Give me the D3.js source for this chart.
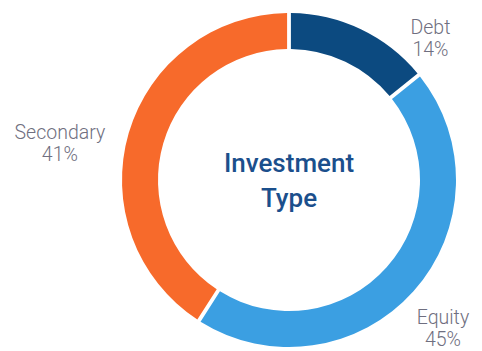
<!DOCTYPE html>
<html>
<head>
<meta charset="utf-8">
<title>Investment Type</title>
<style>
  html, body { margin: 0; padding: 0; background: #fff; }
  svg { display: block; }
</style>
</head>
<body>
<div id="container"></div>
<script src="https://d3js.org/d3.v7.min.js"></script>
<script>

// data
const categories = ["Debt", "Equity", "Secondary"];
const shares = [14, 45, 41];
const sliceColors = ["#0c4a80", "#3b9fe2", "#f76a2b"];
const centerTitle = ["Investment", "Type"];

const width = 482;
const height = 351;
const cx = 289;
const cy = 180;
const outerR = 167;
const innerR = 131;

// where each label sits, as angle (deg from 12 o'clock) and distance from centre
const labelPlace = {
  Debt: { angle: 45, r: 200 },
  Equity: { angle: 134, r: 214 },
  Secondary: { angle: 279, r: 232 }
};

const rows = categories.map((c, i) => ({ key: c, value: shares[i], color: sliceColors[i] }));

const pie = d3.pie()
  .value(d => d.value)
  .sort(null)
  .padAngle(0.018);

const arc = d3.arc()
  .innerRadius(innerR)
  .outerRadius(outerR);

const svg = d3.select("#container")
  .append("svg")
  .attr("width", width)
  .attr("height", height);

const g = svg.append("g")
  .attr("transform", `translate(${cx}, ${cy})`);

g.selectAll(".slice")
  .data(pie(rows))
  .enter().append("path")
    .attr("class", "slice")
    .attr("d", arc)
    .style("fill", d => d.data.color);

// slice labels
const label = g.selectAll(".label")
  .data(rows)
  .enter().append("text")
    .attr("class", "label")
    .attr("transform", d => {
      const p = labelPlace[d.key];
      const a = p.angle * Math.PI / 180;
      return `translate(${Math.sin(a) * p.r}, ${-Math.cos(a) * p.r})`;
    })
    .style("font-family", "Roboto, sans-serif")
    .style("font-weight", "300")
    .style("font-size", "19.5px")
    .style("fill", "#6f6f80")
    .style("text-anchor", "middle");

label.append("tspan")
  .attr("x", 0)
  .attr("dy", -5)
  .text(d => d.key);

label.append("tspan")
  .attr("x", 0)
  .attr("dy", 22)
  .text(d => d.value + "%");

// centre title
const title = g.append("text")
  .style("font-family", "Roboto, sans-serif")
  .style("font-weight", "500")
  .style("font-size", "26px")
  .style("fill", "#1b4f8c")
  .style("text-anchor", "middle");

title.selectAll("tspan")
  .data(centerTitle)
  .enter().append("tspan")
    .attr("x", 0)
    .attr("y", (d, i) => -8 + i * 35)
    .text(d => d);

</script>
</body>
</html>
